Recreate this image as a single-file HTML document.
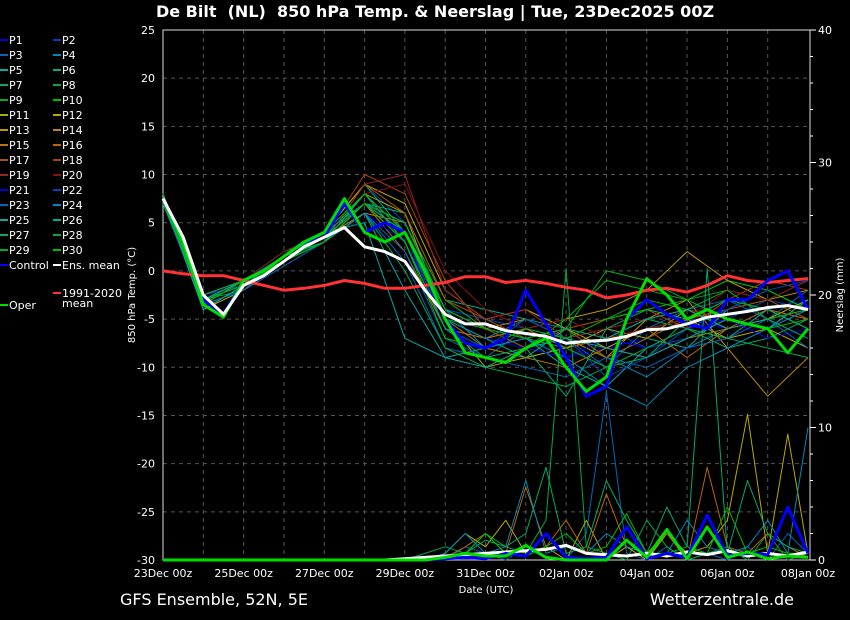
<!DOCTYPE html>
<html><head><meta charset="utf-8"><style>
html,body{margin:0;padding:0;background:#000;}
svg{display:block;font-family:"DejaVu Sans","Liberation Sans",sans-serif;}
</style></head><body>
<svg id="chart" width="850" height="620" viewBox="0 0 850 620">
<text x="435" y="17" fill="#fff" font-size="16" font-weight="bold" text-anchor="middle">De Bilt&#160;&#160;(NL)&#160;&#160;850 hPa Temp. &amp; Neerslag | Tue, 23Dec2025 00Z</text>
<text x="120" y="605" fill="#fff" font-size="16">GFS Ensemble, 52N, 5E</text>
<text x="794" y="605" fill="#fff" font-size="16" text-anchor="end">Wetterzentrale.de</text>
<text transform="translate(135,295) rotate(-90)" fill="#fff" font-size="10" text-anchor="middle">850 hPa Temp. (°C)</text>
<text transform="translate(843,295) rotate(-90)" fill="#fff" font-size="10" text-anchor="middle">Neerslag (mm)</text>
<text x="486" y="593" fill="#fff" font-size="10" text-anchor="middle">Date (UTC)</text>
<g id="grid"></g><g id="axes"></g><g id="plot"></g><g id="legend"></g>
</svg>
<script>
const xLabels=["23Dec 00z","25Dec 00z","27Dec 00z","29Dec 00z","31Dec 00z","02Jan 00z","04Jan 00z","06Jan 00z","08Jan 00z"];
const tTicks=[25,20,15,10,5,0,-5,-10,-15,-20,-25,-30];
const pTicks=[40,30,20,10,0];
const ensMean=[7.5,3.5,-2.5,-4.5,-1.5,-0.5,1,2.5,3.5,4.5,2.5,2,1,-2,-4.5,-5.5,-5.5,-6.2,-6.5,-6.8,-7.5,-7.3,-7.2,-6.8,-6.1,-6,-5.5,-4.8,-4.5,-4.2,-3.8,-3.6,-4];
const oper=[7.5,3,-3.5,-4.8,-1,0,1.5,3,4,7.5,4,3,4,0,-5,-8.5,-9,-9.5,-8,-7,-10,-12.5,-11,-5,-0.8,-2.5,-5,-4,-5,-5.5,-6,-8.5,-6];
const control=[7.5,3,-3,-4.5,-1,0,1.5,3,3.5,7,4,5,4,0,-5,-7.5,-8,-7,-2,-5.5,-9,-13,-12,-5,-3,-4.5,-5.5,-6,-3,-3,-1,0,-4];
const clim=[0,-0.3,-0.5,-0.5,-1,-1.5,-2,-1.8,-1.5,-1,-1.3,-1.8,-1.8,-1.5,-1.2,-0.6,-0.6,-1.2,-1,-1.3,-1.7,-2,-2.8,-2.5,-2,-1.8,-2.2,-1.5,-0.5,-1,-1.2,-1,-0.8];
const meanPrecip=[0,0,0,0,0,0,0,0,0,0,0,0,0.1,0.2,0.3,0.4,0.5,0.6,0.7,0.8,1.1,0.5,0.4,0.3,0.5,0.3,0.6,0.4,0.7,0.3,0.5,0.3,0.6];
const operPrecip=[0,0,0,0,0,0,0,0,0,0,0,0,0,0,0.2,0.5,0.3,0.3,1.1,0.2,0,0,0,1.5,0.2,2.3,0.1,2.5,0.2,0.6,0.1,0.3,0.2];
const controlPrecip=[0,0,0,0,0,0,0,0,0,0,0,0,0,0,0.1,0.2,0.1,0.5,0.3,2.0,0.2,0.1,0.2,2.5,0.1,0.5,0.2,3.4,0.3,0.5,0.4,4,0.5];
const P1=[7.5,-3,-1,1.5,3,7,2,-6,-8,-7,-9,-8,-7,-5,-6,-4,-3];
const P2=[8,-2.5,-1.5,1,4,9,5,-4,-5,-6,-8,-6,-8,-7,-5,-3,-4];
const P3=[7,-3.5,-2,0.5,3,6,1,-8,-9,-6,-7,-10,-6,-4,-3,-5,-2];
const P4=[7.5,-3,-1,1,3.5,8,3,-5,-7,-5,-6,-9,-11,-8,-6,-5,-3];
const P5=[7.5,-4,-1.5,1.5,4,5,-7,-9,-8,-7,-10,-12,-8,-6,-7,-4,-6];
const P6=[8,-3,-1,1,3,7,6,-3,-4,-5,-7,-9,-7,-8,-4,-2,-4];
const P7=[7,-3,-2,1.5,4,9,4,-6,-8,-9,-8,-7,-5,-6,-8,-7,-5];
const P8=[7.5,-2.5,-1,1,3,6,0,-8,-10,-11,-12,-10,-9,-5,-3,-4,-6];
const P9=[7.5,-3,-1.5,1,4,7,5,-3,-6,-7,-6,-5,-3,-4,-2,-3,-1];
const P10=[8,-3.5,-1,2,3.5,8,4,-4,-6,-8,-5,-1,-2,-3,-1,-2,-4];
const P11=[7,-3,-1.5,1,3,8,6,-5,-10,-9,-8,-6,-7,-4,-6,-5,-3];
const P12=[7.5,-4,-2,1,4,9,7,-2,-5,-4,-6,-8,-6,-5,-7,-6,-8];
const P13=[7.5,-3,-1,1.5,3,7,3,-6,-7,-6,-5,-4,-2,2,-1,-3,-2];
const P14=[8,-3,-1.5,1,3.5,6,5,-4,-6,-5,-7,-9,-5,-3,-8,-13,-9];
const P15=[7,-2.5,-1,1,3,8,4,-5,-8,-9,-10,-8,-9,-7,-6,-5,-4];
const P16=[7.5,-3,-1,1,4,7,2,-6,-7,-6,-8,-7,-6,-9,-6,-4,-5];
const P17=[7.5,-3.5,-2,1.5,3,9,6,-3,-5,-7,-6,-9,-7,-5,-4,-3,-5];
const P18=[8,-3,-1,1,3.5,10,8,-1,-6,-8,-6,-5,-4,-6,-3,-1,-2];
const P19=[7,-3,-1.5,1,3,9,10,-2,-5,-4,-7,-6,-5,-4,-5,-6,-4];
const P20=[7.5,-2.5,-1,2,4,8,9,0,-4,-6,-5,-7,-6,-5,-2,-3,-1];
const P21=[7.5,-3,-1,1,3,6,3,-5,-7,-8,-9,-7,-8,-6,-5,-7,-6];
const P22=[8,-3,-1.5,1,3.5,7,4,-6,-8,-5,-7,-11,-9,-6,-4,-2,-1];
const P23=[7,-3.5,-2,1,3,6,2,-7,-9,-10,-11,-9,-10,-8,-7,-5,-8];
const P24=[7.5,-3,-1,1.5,4,7,5,-4,-8,-7,-9,-12,-14,-10,-8,-6,-4];
const P25=[7.5,-4,-1.5,1,3,6,-2,-9,-10,-8,-7,-8,-9,-7,-5,-6,-3];
const P26=[8,-3,-1,1,3.5,7,4,-5,-7,-9,-6,-7,-5,-4,-6,-5,-7];
const P27=[7,-3,-1.5,1.5,3,8,3,-6,-9,-8,-13,-6,-4,-5,-3,-4,-6];
const P28=[7.5,-2.5,-1,1,3.5,7,5,-4,-6,-7,-8,-10,-8,-6,-7,-8,-9];
const P29=[7.5,-3,-1.5,1,4,8,4,-5,-6,-7,-6,0,-1,-3,-2,-5,-4];
const P30=[8,-3.5,-1,1,3,7,3,-7,-8,-6,-7,-5,-4,-3,-5,-6,-5];
const members=[P1,P2,P3,P4,P5,P6,P7,P8,P9,P10,P11,P12,P13,P14,P15,P16,P17,P18,P19,P20,P21,P22,P23,P24,P25,P26,P27,P28,P29,P30];
const P3precip=[0,0,0,0,0,0,0,0,0,0,0,0,0,0,0,1,0.5,0,1,0.3,0,2,12.7,0.5,0,1,0,0.5,0,1,0,2,0.5];
const P8precip=[0,0,0,0,0,0,0,0,0,0,0,0,0,0.5,1,0.5,2,1,0.5,3,22,1,0.5,0,3,1,0,0.5,1,0,2,0,0.5];
const P12precip=[0,0,0,0,0,0,0,0,0,0,0,0,0,0,0.5,2,1,3,0.5,1,0,3,0,1,0,2,0.5,1,3,11,0.5,9.5,0.5];
const P16precip=[0,0,0,0,0,0,0,0,0,0,0,0,0,0,0.2,1,2,0.5,5.5,1,3,0.5,5,1,0.5,2,0,7,1,0.5,2,1,0.2];
const P27precip=[0,0,0,0,0,0,0,0,0,0,0,0,0,0,0.3,0.5,1.5,1,2,7,0.5,1,6,3,0.5,4,1,22,0.5,6,2,1,0.5];
const P24precip=[0,0,0,0,0,0,0,0,0,0,0,0,0,0,0.5,2,0.5,1,6,0.5,1,0.5,2,1,0.5,0.5,3,1,0.5,1,3,0.5,10];
const P10precip=[0,0,0,0,0,0,0,0,0,0,0,0,0,0,0.2,0.5,2,0.5,0.3,1,2,0.5,1,3.5,0.5,0.5,1,0.5,4,0.5,1,0.5,0.5];
const memberPrecip=[P3precip,P8precip,P12precip,P16precip,P27precip,P24precip,P10precip];
const memberPrecipColors=["#0066bb","#00aa44","#bbaa00","#bb6600","#00aa66","#0088bb","#00bb00"];
const memberColors=["#0000dd","#0044bb","#0066bb","#0088bb","#00aaaa","#00aa88","#00aa66","#00aa44","#00aa22","#00bb00","#aaaa00","#bbaa00","#bb9900","#bb8800","#bb7700","#bb6600","#aa5500","#aa4400","#992222","#881111","#0000dd","#0044bb","#0066bb","#0088bb","#00aaaa","#00aa88","#00aa66","#00aa44","#00aa22","#00bb00"];

const NS="http://www.w3.org/2000/svg";
const X0=163,X1=808,Y0=30,Y1=560;
const xS=d=>X0+d*(X1-X0)/16;
const yT=v=>Y1-(v+30)*(Y1-Y0)/55;
const yP=m=>Y1-m*(Y1-Y0)/40;
function mk(tag,attrs,parent){const e=document.createElementNS(NS,tag);for(const k in attrs)e.setAttribute(k,attrs[k]);parent.appendChild(e);return e;}
const grid=document.getElementById('grid'),axes=document.getElementById('axes'),plot=document.getElementById('plot'),leg=document.getElementById('legend');
for(let d=1;d<16;d++){const l=mk('line',{x1:xS(d),x2:xS(d),y1:Y0,y2:Y1,stroke:'#555','stroke-dasharray':'4,4','stroke-width':1},grid);

}
tTicks.forEach(v=>{if(v>-30&&v<25){const l=mk('line',{x1:X0,x2:X1,y1:yT(v),y2:yT(v),stroke:'#555','stroke-dasharray':'4,4','stroke-width':1},grid);

}
const t=mk('text',{x:155,y:yT(v)+4,fill:'#fff','font-size':11,'text-anchor':'end'},axes);t.textContent=v;

});
pTicks.forEach(m=>{const t=mk('text',{x:818,y:yP(m)+4,fill:'#fff','font-size':11},axes);t.textContent=m;

});
for(let m=0;m<=40;m+=2){mk('line',{x1:X1+2,x2:X1+(m%10?5:8),y1:yP(m),y2:yP(m),stroke:'#fff'},axes);}
xLabels.forEach((s,i)=>{const t=mk('text',{x:xS(i*2),y:577,fill:'#fff','font-size':11,'text-anchor':'middle'},axes);t.textContent=s;

});
const frame=mk('rect',{x:X0,y:Y0,width:X1-X0+2,height:Y1-Y0,fill:'none',stroke:'#ddd','stroke-width':1},axes);


function line(arr,step,yf,color,w,name){const pts=arr.map((v,i)=>xS(i*step).toFixed(1)+','+yf(v).toFixed(1)).join(' ');
const p=mk('polyline',{points:pts,fill:'none',stroke:color,'stroke-width':w,'stroke-linejoin':'round'},plot);

}
members.forEach((m,i)=>line(m,1,yT,memberColors[i],1,'member-temp-line'));
memberPrecip.forEach((m,i)=>line(m,0.5,yP,memberPrecipColors[i],1,'member-precip-line'));
line(meanPrecip,0.5,yP,'#fff',3,'mean-precip-line');
line(controlPrecip,0.5,yP,'#0000ff',3,'control-precip-line');
line(operPrecip,0.5,yP,'#00dd00',3,'oper-precip-line');
line(clim,0.5,yT,'#ff3333',3,'climatology-line');
line(control,0.5,yT,'#0000ff',3,'control-temp-line');
line(oper,0.5,yT,'#00dd00',3,'oper-temp-line');
line(ensMean,0.5,yT,'#ffffff',3,'ens-mean-line');
function legItem(x,y,color,label){const l=mk('line',{x1:x,x2:x+8,y1:y,y2:y,stroke:color,'stroke-width':2},leg);


const t=mk('text',{x:x+9,y:y+4,fill:'#fff','font-size':11},leg);t.textContent=label;

}
for(let i=0;i<30;i++){const col=i%2,row=Math.floor(i/2);legItem(col?53:0,40+row*15,memberColors[i],'P'+(i+1));}
legItem(0,265,'#0000ff','Control');legItem(53,265,'#ffffff','Ens. mean');
legItem(53,293,'#ff3333','1991-2020');
const mt=mk('text',{x:62,y:307,fill:'#fff','font-size':11},leg);mt.textContent='mean';


legItem(0,305,'#00dd00','Oper');
</script>
</body></html>
